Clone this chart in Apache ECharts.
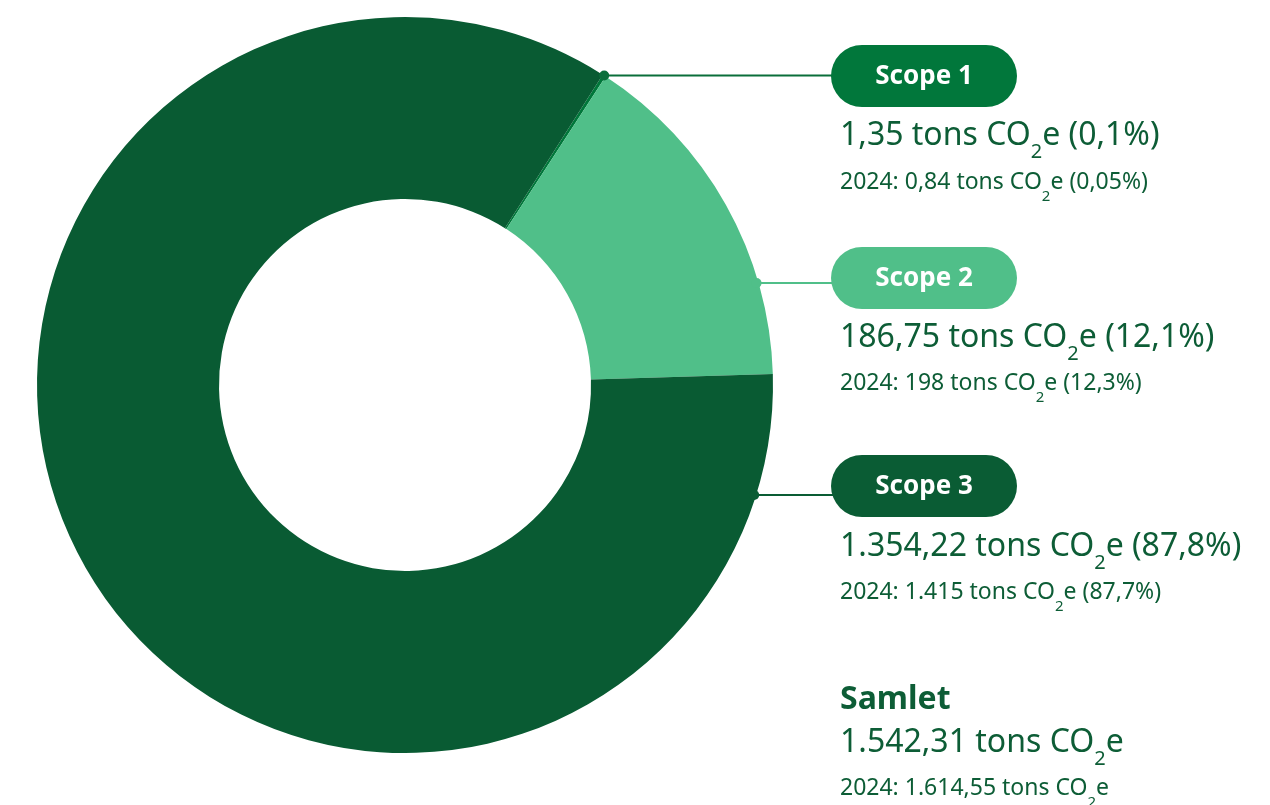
<!DOCTYPE html>
<html><head><meta charset="utf-8">
<script src="https://cdn.jsdelivr.net/npm/echarts@6/dist/echarts.min.js"></script>
<style>html,body{margin:0;padding:0;background:#fff}#c{width:1270px;height:805px}</style>
</head><body><div id="c"></div>
<script>
// ---- data ----
const categories = ['Scope 1', 'Scope 2', 'Scope 3'];
const sliceShares = [0.15, 15.35, 84.5];          // shares of the ring as drawn
const values2025 = ['1,35', '186,75', '1.354,22'];
const shares2025 = ['0,1%', '12,1%', '87,8%'];
const values2024 = ['0,84', '198', '1.415'];
const shares2024 = ['0,05%', '12,3%', '87,7%'];
const totalLabel = 'Samlet';
const total2025 = '1.542,31';
const total2024 = '1.614,55';

// ---- style ----
const sliceColors = ['#00773a', '#50bf89', '#095b33'];
const pillColors = ['#01773b', '#50bf89', '#0a5c34'];
const lineColors = ['#0a6e3a', '#50bf89', '#0a5c34'];
const TXT = '#0d5d36';
const FONT = 'Noto Sans';
const CX = 405, CY = 385, R0 = 186, R1 = 368, START = 57.5;
const PILL_X = 831, PILL_W = 186, PILL_H = 62;
const pillTops = [45, 247, 455];
const lineYs = [null, 283, 495];
const mainBase = [146, 348, 557];
const subBase = [189, 390, 599];
const TEXT_X = 840;

const rich = {
  m: { fontSize: 32, lineHeight: 38, fill: TXT, fontFamily: FONT },
  ms: { fontSize: 20, lineHeight: 4, padding: [25.4, 0, 0, 0], verticalAlign: 'top', fill: TXT, fontFamily: FONT },
  n: { fontSize: 23, lineHeight: 32, fill: TXT, fontFamily: FONT },
  ns: { fontSize: 15, lineHeight: 4, padding: [23, 0, 0, 0], verticalAlign: 'top', fill: TXT, fontFamily: FONT }
};
const M_OFF = 10, N_OFF = 7;

const chart = echarts.init(document.getElementById('c'), null, { renderer: 'canvas' });
const sum = sliceShares.reduce((a, b) => a + b, 0);
const graphics = [];

categories.forEach((name, i) => {
  let dx, dy;
  if (i === 0) {
    const a = (START - 0.5 * sliceShares[0] / sum * 360) * Math.PI / 180;
    dx = CX + R1 * Math.cos(a);
    dy = CY - R1 * Math.sin(a);
  } else {
    dy = lineYs[i];
    dx = CX + Math.sqrt(R1 * R1 - (dy - CY) * (dy - CY)) - 2;
  }
  graphics.push({ type: 'line', z: 10, shape: { x1: dx, y1: dy, x2: PILL_X + 10, y2: dy },
    style: { stroke: lineColors[i], lineWidth: 2 } });
  graphics.push({ type: 'circle', z: 11, shape: { cx: dx, cy: dy, r: 5 }, style: { fill: lineColors[i] } });
  graphics.push({ type: 'rect', z: 12, shape: { x: PILL_X, y: pillTops[i], width: PILL_W, height: PILL_H, r: PILL_H / 2 },
    style: { fill: pillColors[i] } });
  graphics.push({ type: 'text', z: 13, x: PILL_X + PILL_W / 2, y: pillTops[i] + PILL_H / 2 + 1,
    style: { text: name, fill: '#fff', font: 'bold 26px "' + FONT + '"', align: 'center', verticalAlign: 'middle' } });
  graphics.push({ type: 'text', z: 13, x: TEXT_X, y: mainBase[i] - M_OFF,
    style: { text: '{m|' + values2025[i] + ' tons CO}{ms|2}{m|e (' + shares2025[i] + ')}', rich: rich, verticalAlign: 'middle', align: 'left' } });
  graphics.push({ type: 'text', z: 13, x: TEXT_X, y: subBase[i] - N_OFF,
    style: { text: '{n|2024: ' + values2024[i] + ' tons CO}{ns|2}{n|e (' + shares2024[i] + ')}', rich: rich, verticalAlign: 'middle', align: 'left' } });
});

graphics.push({ type: 'text', z: 13, x: TEXT_X, y: 710 - M_OFF,
  style: { text: totalLabel, fill: TXT, font: 'bold 32px "' + FONT + '"', align: 'left', verticalAlign: 'middle' } });
graphics.push({ type: 'text', z: 13, x: TEXT_X, y: 753 - M_OFF,
  style: { text: '{m|' + total2025 + ' tons CO}{ms|2}{m|e}', rich: rich, verticalAlign: 'middle', align: 'left' } });
graphics.push({ type: 'text', z: 13, x: TEXT_X, y: 795 - N_OFF,
  style: { text: '{n|2024: ' + total2024 + ' tons CO}{ns|2}{n|e}', rich: rich, verticalAlign: 'middle', align: 'left' } });

chart.setOption({
  animation: false,
  backgroundColor: '#ffffff',
  series: [{
    type: 'pie',
    center: [CX, CY],
    radius: [R0, R1],
    startAngle: START,
    clockwise: true,
    avoidLabelOverlap: false,
    label: { show: false },
    labelLine: { show: false },
    emphasis: { disabled: true },
    itemStyle: { borderWidth: 0 },
    data: categories.map((c, i) => ({ name: c, value: sliceShares[i], itemStyle: { color: sliceColors[i] } }))
  }],
  graphic: graphics
});
</script></body></html>
